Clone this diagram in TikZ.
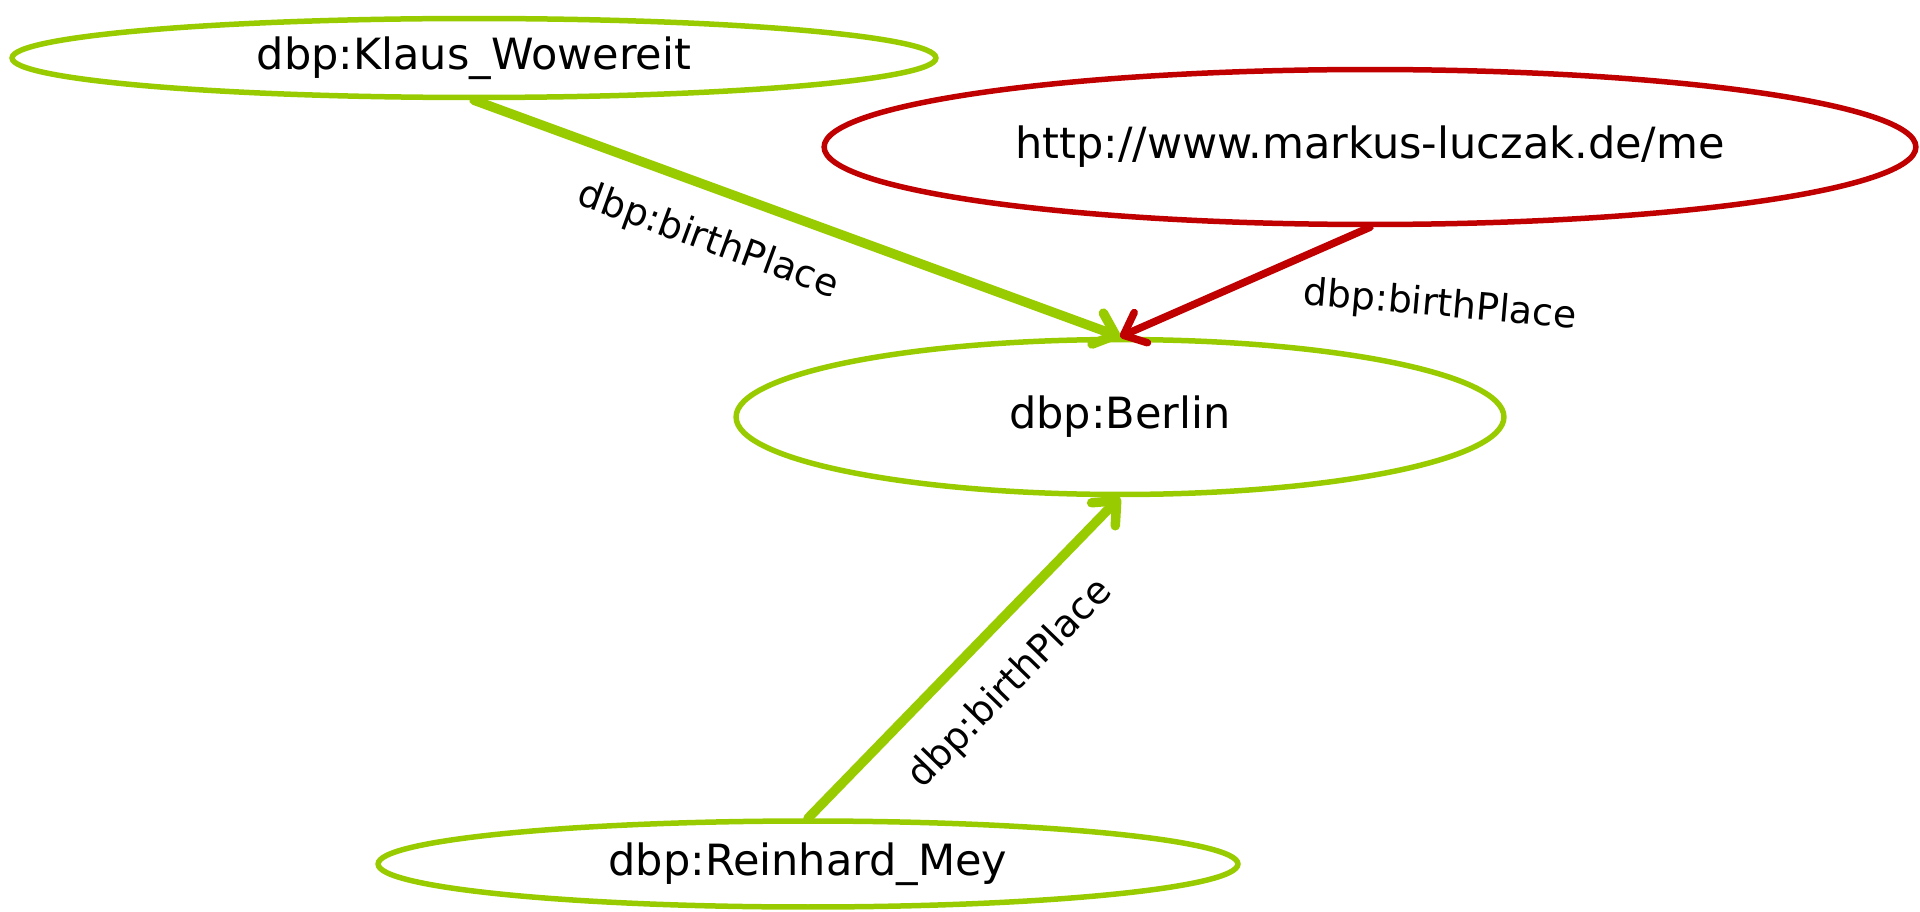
\documentclass[tikz,border=0pt]{standalone}
\usepackage{fontspec}
\setmainfont{DejaVu Sans}
\usepackage{xcolor}
\usetikzlibrary{shapes.geometric,arrows.meta,positioning}

\definecolor{rdfgreen}{RGB}{153,204,0}
\definecolor{rdfred}{RGB}{192,0,0}

\tikzset{
    resource/.style={ellipse, draw=rdfgreen, line width=0.11cm, inner sep=0pt,
        font=\fontsize{24.5}{29}\selectfont},
    foreign/.style={resource, draw=rdfred},
    prop/.style={rdfgreen, line width=0.19cm, line cap=round,
        -{Straight Barb[length=0.38cm,width=0.66cm,line cap=round,line join=round]}},
    foreignprop/.style={prop, rdfred, line width=0.15cm},
    proplabel/.style={text=black, font=\fontsize{21.5}{26}\selectfont}
}

\begin{document}
\begin{tikzpicture}[x=0.02cm,y=-0.02cm]
    \useasboundingbox (0,0) rectangle (1920,912);
    % Draw resources
    \node[resource, minimum width=18.48cm, minimum height=1.58cm] (klaus) at (474,58) {dbp:Klaus\_Wowereit};
    \node[foreign, minimum width=21.84cm, minimum height=3.1cm] (markus) at (1370,147) {http://www.markus-luczak.de/me};
    \node[resource, minimum width=15.36cm, minimum height=3.1cm] (berlin) at (1120,417) {dbp:Berlin};
    \node[resource, minimum width=17.2cm, minimum height=1.72cm] (reinhard) at (808,864) {dbp:Reinhard\_Mey};
    % Draw properties
    \draw[prop] (klaus.south) -- (berlin.north)
        node[pos=0.39, sloped, below=0.46cm, proplabel] (l1) {dbp:birthPlace};
    \draw[foreignprop] (markus.south) -- (berlin.north)
        node[pos=0.6, anchor=west, xshift=1.48cm, rotate=-5, proplabel] (l2) {dbp:birthPlace};
    \draw[prop] (reinhard.north) -- (berlin.south)
        node[pos=0.53, sloped, below=0.46cm, proplabel] (l3) {dbp:birthPlace};
\end{tikzpicture}
\end{document}
